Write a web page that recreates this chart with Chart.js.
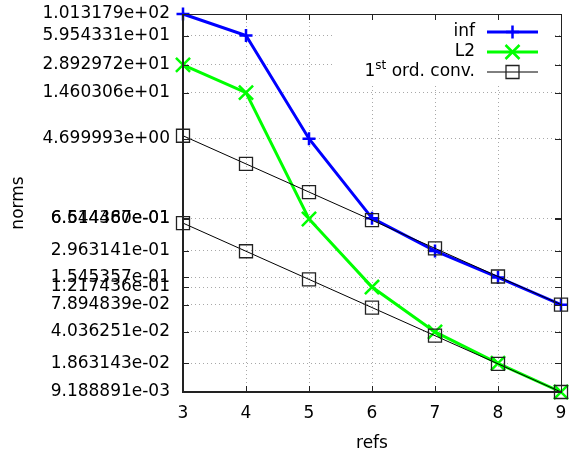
<!DOCTYPE html>
<html>
<head>
<meta charset="utf-8">
<script src="https://cdn.jsdelivr.net/npm/chart.js@4.4.1/dist/chart.umd.min.js"></script>
<style>
  html, body { margin: 0; padding: 0; background: #fff; }
  canvas { display: block; }
</style>
</head>
<body>
<canvas id="normas" width="571" height="457"></canvas>
<script>
// refinamentos (eixo x)
const refs = [3, 4, 5, 6, 7, 8, 9];
// normas
const normInf = [101.3179, 59.54331, 4.699993, 0.6644480, 0.2963141, 0.1545357, 0.07894839];
const normL2 = [28.92972, 14.60306, 0.6514367, 0.1217436, 0.04036251, 0.01863143, 0.009188891];
// retas de convergencia de 1a ordem
const convSup = [5.052697, 2.526348, 1.263174, 0.6315871, 0.3157936, 0.1578968, 0.07894839];
const convInf = [0.5880890, 0.2940445, 0.1470223, 0.07351113, 0.03675556, 0.01837778, 0.009188891];
// rotulos do eixo y (ordem crescente)
const yTickLabels = ['9.188891e-03', '1.863143e-02', '4.036251e-02', '7.894839e-02', '1.217436e-01',
  '1.545357e-01', '2.963141e-01', '6.514367e-01', '6.644480e-01', '4.699993e+00',
  '1.460306e+01', '2.892972e+01', '5.954331e+01', '1.013179e+02'];

const AZUL = '#0000ff', VERDE = '#00ff00', PRETO = '#000000';

function pontos(ys) {
    return refs.map((x, i) => ({x: x, y: ys[i]}));
}

Chart.defaults.font.family = 'DejaVu Sans';
Chart.defaults.font.size = 17;
Chart.defaults.color = '#000';

// sem folga extra dos rotulos nas pontas
const semFolga = () => ({left: 0, right: 0, top: 0, bottom: 0});

// caixa branca atras da legenda (key opaca)
const fundoLegenda = {
    id: 'fundoLegenda',
    beforeDatasetsDraw(chart) {
        const a = chart.chartArea, c = chart.ctx;
        c.save();
        c.fillStyle = '#fff';
        c.fillRect(a.right - 228, a.top + 6, 222, 66);
        c.restore();
    }
};

// moldura com marcas espelhadas, estilo gnuplot
const moldura = {
    id: 'moldura',
    afterDatasetsDraw(chart) {
        const a = chart.chartArea, c = chart.ctx;
        const xs = chart.scales.x, ys = chart.scales.y;
        c.save();
        c.strokeStyle = '#222';
        c.lineWidth = 1;
        c.beginPath();
        xs.ticks.forEach(t => {
            const px = Math.round(xs.getPixelForValue(t.value)) + 0.5;
            c.moveTo(px, a.bottom); c.lineTo(px, a.bottom - 6);
            c.moveTo(px, a.top); c.lineTo(px, a.top + 6);
        });
        ys.ticks.forEach(t => {
            const py = Math.round(ys.getPixelForValue(t.value)) + 0.5;
            c.moveTo(a.left, py); c.lineTo(a.left + 6, py);
            c.moveTo(a.right, py); c.lineTo(a.right - 6, py);
        });
        c.stroke();
        c.beginPath();
        c.moveTo(a.left, a.top + 0.5); c.lineTo(a.right + 0.5, a.top + 0.5); c.lineTo(a.right + 0.5, a.bottom);
        c.stroke();
        c.lineWidth = 2;
        c.beginPath();
        c.moveTo(a.left, a.top); c.lineTo(a.left, a.bottom); c.lineTo(a.right + 1, a.bottom);
        c.stroke();
        c.restore();
    }
};

function marcador(c, tipo, x, y) {
    c.beginPath();
    if (tipo === 'cross') {
        c.moveTo(x - 6.5, y); c.lineTo(x + 6.5, y);
        c.moveTo(x, y - 6.5); c.lineTo(x, y + 6.5);
    } else if (tipo === 'crossRot') {
        c.moveTo(x - 7, y - 7); c.lineTo(x + 7, y + 7);
        c.moveTo(x - 7, y + 7); c.lineTo(x + 7, y - 7);
    } else {
        c.rect(x - 6.5, y - 6.5, 13, 13);
    }
    c.stroke();
}

// legenda desenhada a mao: texto a direita, amostra depois
const legenda = {
    id: 'legenda',
    afterDraw(chart) {
        const a = chart.chartArea, c = chart.ctx;
        const xt = a.right - 86, x1 = a.right - 74, x2 = a.right - 23;
        const itens = [
            {txt: 'inf', cor: AZUL, lw: 3, tipo: 'cross', pw: 2.5},
            {txt: 'L2', cor: VERDE, lw: 3, tipo: 'crossRot', pw: 2.5},
            {txt: null, cor: PRETO, lw: 1, tipo: 'rect', pw: 1.3}
        ];
        c.save();
        c.textBaseline = 'middle';
        itens.forEach((it, i) => {
            const y = a.top + 18 + i * 20;
            c.fillStyle = '#000';
            if (it.txt) {
                c.font = '17px "DejaVu Sans"';
                c.textAlign = 'right';
                c.fillText(it.txt, xt, y);
            } else {
                c.textAlign = 'left';
                c.font = '17px "DejaVu Sans"';
                const w1 = c.measureText('1').width;
                const w3 = c.measureText(' ord. conv.').width;
                c.font = '12px "DejaVu Sans"';
                const w2 = c.measureText('st').width;
                let x = xt - (w1 + w2 + w3);
                c.font = '17px "DejaVu Sans"';
                c.fillText('1', x, y);
                c.font = '12px "DejaVu Sans"';
                c.fillText('st', x + w1, y - 6);
                c.font = '17px "DejaVu Sans"';
                c.fillText(' ord. conv.', x + w1 + w2, y);
            }
            c.strokeStyle = it.cor;
            c.lineWidth = it.lw;
            c.beginPath();
            c.moveTo(x1, y); c.lineTo(x2, y);
            c.stroke();
            c.lineWidth = it.pw;
            if (it.tipo === 'rect') c.strokeStyle = '#222';
            marcador(c, it.tipo, (x1 + x2) / 2, y);
        });
        c.restore();
    }
};

const ctx = document.getElementById('normas').getContext('2d');
const grafico = new Chart(ctx, {
    type: 'line',
    data: {
        datasets: [
            {
                label: 'inf',
                data: pontos(normInf),
                borderColor: AZUL,
                borderWidth: 3,
                pointStyle: 'cross',
                pointRadius: 6.5,
                pointBorderWidth: 2.5,
                pointBorderColor: AZUL,
                order: 4,
                clip: false
            },
            {
                label: 'L2',
                data: pontos(normL2),
                borderColor: VERDE,
                borderWidth: 3,
                pointStyle: 'crossRot',
                pointRadius: 10,
                pointBorderWidth: 2.5,
                pointBorderColor: VERDE,
                order: 3,
                clip: false
            },
            {
                label: '1st ord. conv.',
                data: pontos(convSup),
                borderColor: PRETO,
                borderWidth: 1,
                pointStyle: 'rect',
                pointRadius: 9.2,
                pointBorderWidth: 1.3,
                pointBorderColor: '#222',
                pointBackgroundColor: 'rgba(0,0,0,0)',
                order: 2,
                clip: false
            },
            {
                label: '1st ord. conv. (L2)',
                data: pontos(convInf),
                borderColor: PRETO,
                borderWidth: 1,
                pointStyle: 'rect',
                pointRadius: 9.2,
                pointBorderWidth: 1.3,
                pointBorderColor: '#222',
                pointBackgroundColor: 'rgba(0,0,0,0)',
                order: 1,
                clip: false
            }
        ]
    },
    options: {
        responsive: false,
        animation: false,
        layout: {autoPadding: false, padding: {top: 14, right: 10, left: 0, bottom: 0}},
        plugins: {legend: {display: false}, tooltip: {enabled: false}},
        scales: {
            x: {
                type: 'linear',
                min: 3,
                max: 9,
                ticks: {stepSize: 1, padding: 11, color: '#000'},
                grid: {color: '#a8a8a8', lineWidth: 1, drawTicks: false},
                border: {display: false, dash: [1, 3]},
                title: {display: true, text: 'refs', padding: {top: 0, bottom: 3}},
                afterFit: s => { s.height = 65; s.getPadding = semFolga; }
            },
            y: {
                type: 'logarithmic',
                min: 0.009188891,
                max: 101.3179,
                afterBuildTicks: s => {
                    s.ticks = yTickLabels.map(t => ({value: parseFloat(t)}));
                },
                ticks: {
                    autoSkip: false,
                    padding: 13,
                    color: '#000',
                    callback: (v, i) => yTickLabels[i]
                },
                grid: {color: '#a8a8a8', lineWidth: 1, drawTicks: false},
                border: {display: false, dash: [1, 3]},
                title: {display: true, text: 'norms', padding: {top: 8, bottom: 0}},
                afterFit: s => { s.width = 183; s.getPadding = semFolga; }
            }
        }
    },
    plugins: [fundoLegenda, moldura, legenda]
});
</script>
</body>
</html>
